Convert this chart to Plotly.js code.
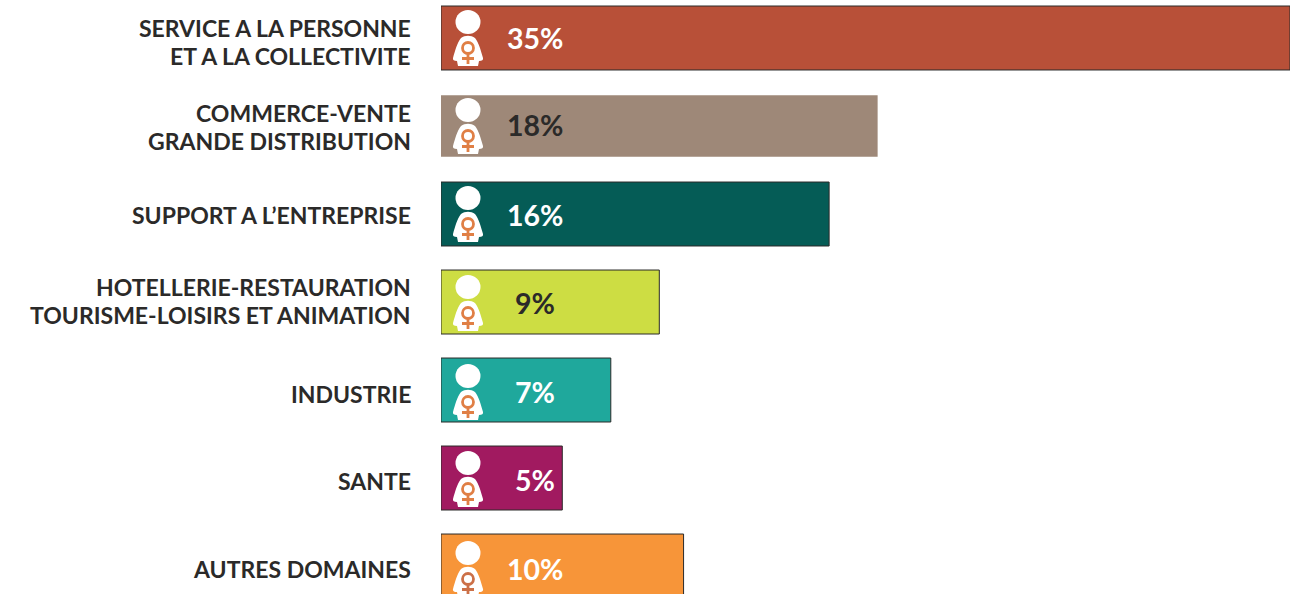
<!DOCTYPE html>
<html>
<head>
<meta charset="utf-8">
<script src="https://cdn.plot.ly/plotly-3.0.1.min.js"></script>
<style>html,body{margin:0;padding:0;background:#fff;overflow:hidden}#chart{width:1294px;height:594px}</style>
</head>
<body>
<div id="chart"></div>
<script>
const categories = [
  "SERVICE A LA PERSONNE<br>ET A LA COLLECTIVITE",
  "COMMERCE-VENTE<br>GRANDE DISTRIBUTION",
  "SUPPORT A L’ENTREPRISE",
  "HOTELLERIE-RESTAURATION<br>TOURISME-LOISIRS ET ANIMATION",
  "INDUSTRIE",
  "SANTE",
  "AUTRES DOMAINES"
];
const values = [35, 18, 16, 9, 7, 5, 10];
const barColors = ["#B85038", "#9E8878", "#055C56", "#CDDD43", "#1FA89C", "#A11A60", "#F79539"];
const borderWidths = [1, 0, 1, 1, 1, 1, 1];
const barWidths = [0.727, 0.7, 0.727, 0.727, 0.727, 0.727, 0.727];
const textColors = ["#ffffff", "#2b2a29", "#ffffff", "#2b2a29", "#ffffff", "#ffffff", "#ffffff"];
const symbolColors = ["#E07F45", "#E07F45", "#E07F45", "#E07F45", "#E07F45", "#E07F45", "#CC7048"];
const labelShifts = [4, 1, 1, -1, 4, 3, 3];
const valueShifts = [0, 1, -1, -1, -2, -2, -3];
const iconShifts = [1, 1, 1, 2, 3, 2, 4];

const positions = categories.map((c, i) => i);
const ICON_X = 1.113;
const LABEL_X = 3.87;
const ROW_PIXELS = 88;

const shapes = [];
const annotations = [];
positions.forEach(i => {
  const base = {xref: "x", yref: "y", xsizemode: "pixel", ysizemode: "pixel", xanchor: ICON_X, yanchor: i + iconShifts[i] / ROW_PIXELS, layer: "above"};
  shapes.push(Object.assign({}, base, {type: "circle", x0: -12.5, x1: 12.5, y0: 5, y1: 29, fillcolor: "#ffffff", line: {width: 0}}));
  shapes.push(Object.assign({}, base, {type: "path",
    path: "M -7 1 C -3 4 3 4 7 1 C 11 -4 13 -12 15 -19 C 15.5 -21 14 -22 11 -22 L 10 -27 L -10 -27 L -11 -22 C -14 -22 -15.5 -21 -15 -19 C -13 -12 -11 -4 -7 1 Z",
    fillcolor: "#ffffff", line: {width: 0}}));
  shapes.push(Object.assign({}, base, {type: "circle", x0: -5.5, x1: 5.5, y0: -14.5, y1: -3.5, fillcolor: "rgba(0,0,0,0)", line: {color: symbolColors[i], width: 2.8}}));
  shapes.push(Object.assign({}, base, {type: "path", path: "M 0 -14 L 0 -25 M -6 -19.5 L 6 -19.5", line: {color: symbolColors[i], width: 2.8}}));

  const lines = categories[i].split("<br>");
  lines.forEach((line, k) => {
    annotations.push({
      xref: "x", yref: "y", x: 0, y: i, xanchor: "right", yanchor: "middle", xshift: -28,
      yshift: -(labelShifts[i]) + (lines.length === 2 ? (k === 0 ? 14 : -14) : 0),
      text: line, showarrow: false, align: "right",
      font: {family: "Lato, sans-serif", size: 23, color: "#2b2a29", weight: 700}
    });
  });
  annotations.push({
    xref: "x", yref: "y", x: LABEL_X, y: i, xanchor: "center", yanchor: "middle", yshift: valueShifts[i],
    text: values[i] + "%", showarrow: false,
    font: {family: "Lato, sans-serif", size: 28.5, color: textColors[i], weight: 700}
  });
});

const data = [
  {
    type: "bar", orientation: "h", x: values, y: positions, width: barWidths,
    marker: {color: barColors, line: {color: "#2b2a29", width: borderWidths}},
    hoverinfo: "none"
  }
];

const layout = {
  width: 1294, height: 594, showlegend: false,
  margin: {l: 441, r: 4, t: 0, b: 0, pad: 0},
  paper_bgcolor: "#ffffff", plot_bgcolor: "#ffffff",
  xaxis: {range: [0, 35], visible: false, showgrid: false, zeroline: false, fixedrange: true},
  yaxis: {
    range: [6.318, -0.4318], showgrid: false, zeroline: false, showline: false, ticks: "",
    showticklabels: false, fixedrange: true
  },
  shapes: shapes,
  annotations: annotations
};
Plotly.newPlot("chart", data, layout, {displayModeBar: false, staticPlot: true});
</script>
</body>
</html>
